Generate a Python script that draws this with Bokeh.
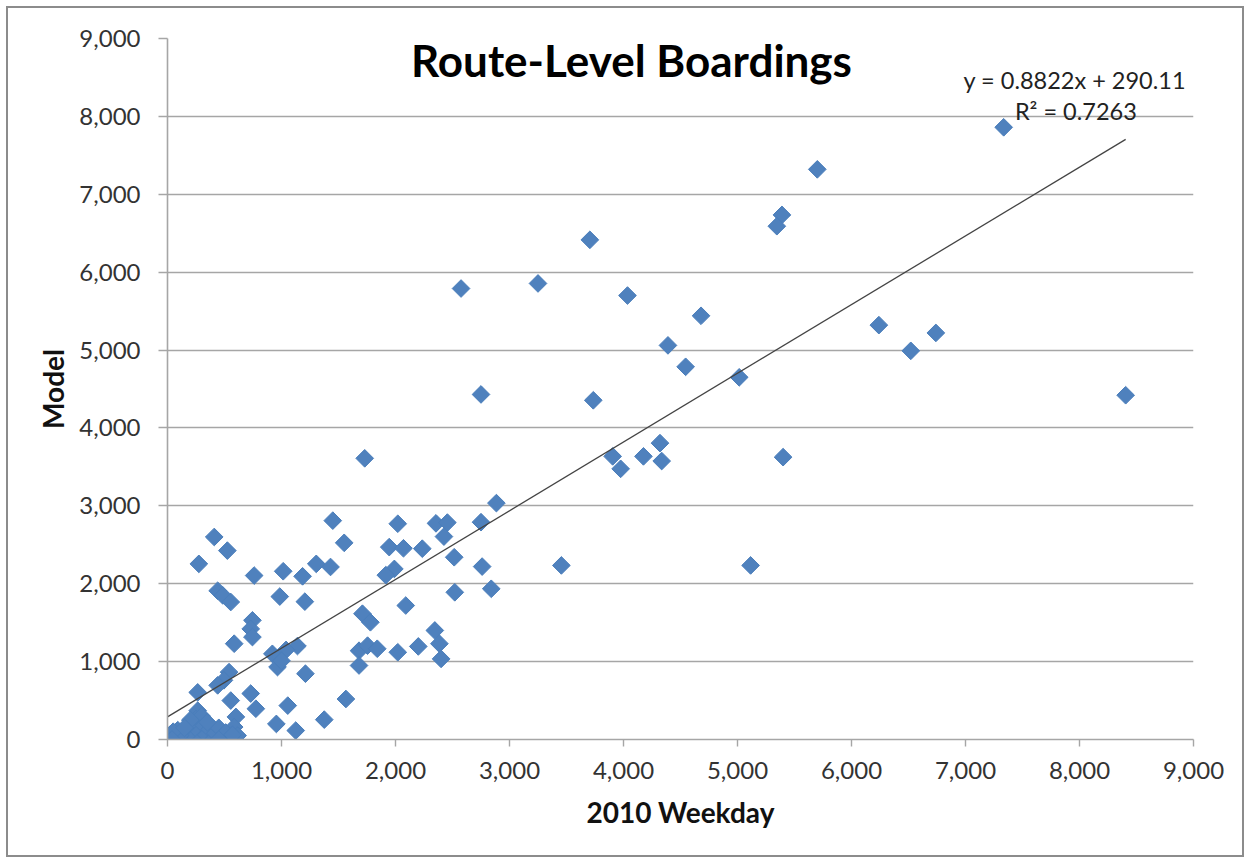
import math
from bokeh.plotting import figure
from bokeh.models import NumeralTickFormatter, Label, FixedTicker, Range1d
from bokeh.embed import file_html
from bokeh.resources import INLINE

# ---- data ----
weekday_2010 = [
    7335, 5700, 5390, 5345, 3705, 3250, 2575, 4035, 4680, 6240, 6740, 4390, 6520, 4545,
    5015, 2750, 8405, 3735, 3905, 3975, 4175, 4320, 4335, 5400, 1730, 3455, 5115,
    2885, 1450, 2020, 2355, 2455, 2750, 2425, 1550, 1945, 2070, 2235, 2515, 2760, 1430,
    1990, 1915, 2520, 2840, 2090, 1710, 1780, 2345, 2385, 2400, 1680, 1755, 1840, 2020,
    2200, 1680, 1565,
    410, 525, 275, 760, 1015, 1185, 1305, 440, 485, 555, 985, 1205, 745, 730, 745, 585,
    1140, 920, 965, 1040, 1000, 1210, 540, 495, 440, 265, 555, 730, 775, 1055, 955, 1125,
    1375, 265, 250, 600, 585, 615,
    0, 20, 60, 90, 130, 160, 190, 210, 240, 260, 280, 300, 320, 340, 370, 400, 420, 450,
    480, 510, 540, 570, 300, 200, 110, 50, 350, 450, 150, 40,
]
model = [
    7860, 7320, 6735, 6590, 6415, 5855, 5790, 5700, 5440, 5320, 5220, 5060, 4990, 4785,
    4650, 4430, 4420, 4355, 3635, 3475, 3635, 3805, 3575, 3625, 3610, 2235, 2235,
    3035, 2810, 2770, 2775, 2785, 2790, 2605, 2525, 2470, 2455, 2450, 2340, 2220, 2215,
    2190, 2110, 1890, 1935, 1720, 1615, 1505, 1400, 1230, 1035, 1140, 1205, 1165, 1120,
    1195, 950, 520,
    2600, 2425, 2255, 2105, 2160, 2095, 2255, 1910, 1850, 1765, 1835, 1770, 1530, 1420, 1315, 1230,
    1200, 1100, 930, 1150, 1010, 845, 865, 760, 695, 605, 500, 590, 395, 435, 200, 115,
    255, 370, 265, 290, 160, 50,
    0, 60, 20, 120, 10, 80, 20, 160, 40, 220, 100, 10, 180, 60, 130, 0, 80, 150,
    30, 90, 10, 60, 300, 250, 50, 100, 220, 0, 150, 0,
]
trend_slope = 0.8822
trend_intercept = 290.11
axis_ticks = [0, 1000, 2000, 3000, 4000, 5000, 6000, 7000, 8000, 9000]
title_text = "Route-Level Boardings"
x_title = "2010 Weekday"
y_title = "Model"
eq_text = "y = 0.8822x + 290.11"
r2_text = "R\u00b2 = 0.7263"

FONT = "Lato"
GRID = "#a6a6a6"

p = figure(
    frame_width=1026, frame_height=701,
    x_range=Range1d(0, 9000), y_range=Range1d(0, 9000),
    output_backend="svg", toolbar_location=None,
    min_border_left=159, min_border_right=49, min_border_top=30, min_border_bottom=116,
    background_fill_color="white", border_fill_color="white",
)
p.styles = {"border": "2px solid #8c8c8c", "margin": "6px 0px 0px 6px"}
p.outline_line_color = None

# grid
p.xgrid.grid_line_color = None
p.ygrid.grid_line_color = GRID
p.ygrid.grid_line_width = 1.6

for ax in (p.xaxis[0], p.yaxis[0]):
    ax.ticker = FixedTicker(ticks=axis_ticks)
    ax.formatter = NumeralTickFormatter(format="0,0")
    ax.axis_line_color = GRID
    ax.axis_line_width = 1.6
    ax.major_tick_line_color = GRID
    ax.major_tick_line_width = 1.4
    ax.major_tick_in = 0
    ax.minor_tick_line_color = None
    ax.major_label_text_font = FONT
    ax.major_label_text_font_size = "24px"
    ax.major_label_text_color = "#333333"
    ax.axis_label_text_font = FONT
    ax.axis_label_text_font_style = "bold"
    ax.axis_label_text_font_size = "28px"
    ax.axis_label_text_color = "#111111"

p.xaxis.major_tick_out = 7
p.xaxis.major_label_standoff = 15
p.xaxis.axis_label = x_title
p.xaxis.axis_label_standoff = 13
p.yaxis.major_tick_out = 9
p.yaxis.major_label_standoff = 18
p.yaxis.axis_label = y_title
p.yaxis.axis_label_standoff = 6

# points
p.scatter(weekday_2010, model, marker="square", angle=math.pi / 4, size=12.5,
          fill_color="#4f81bd", line_color="#4a7ebb", line_width=1)

# trendline from its equation over the data's x extent
x0, x1 = 0, max(weekday_2010)
p.line([x0, x1], [trend_slope * x0 + trend_intercept, trend_slope * x1 + trend_intercept],
       line_color="#444444", line_width=1.3)

# texts
p.add_layout(Label(x=4070, y=8730, text=title_text, text_font=FONT, text_font_style="bold",
                   text_font_size="44px", text_align="center", text_baseline="middle",
                   text_color="#000000"))
p.add_layout(Label(x=7959, y=8470, text=eq_text, text_font=FONT, text_font_size="23.5px",
                   text_align="center", text_baseline="middle", text_color="#222222"))
p.add_layout(Label(x=7968, y=8075, text=r2_text, text_font=FONT, text_font_size="23.5px",
                   text_align="center", text_baseline="middle", text_color="#222222"))

open("out.html", "w").write(file_html(p, INLINE))
